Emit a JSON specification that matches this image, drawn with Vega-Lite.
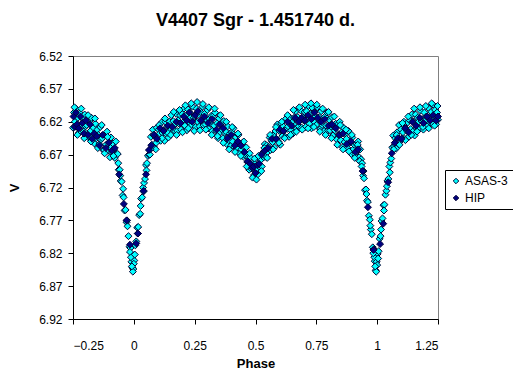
{
  "$schema": "https://vega.github.io/schema/vega-lite/v6.json",
  "autosize": "none",
  "width": 365,
  "height": 263,
  "padding": {"left": 73, "top": 56, "right": 75, "bottom": 61},
  "background": "white",
  "title": {"text": "V4407 Sgr - 1.451740 d.", "font": "Liberation Sans", "fontSize": 18, "fontWeight": "bold", "color": "#000000", "anchor": "middle", "frame": "group", "baseline": "alphabetic", "offset": 6},
  "config": {
    "font": "Liberation Sans",
    "view": {"stroke": "#808080", "strokeWidth": 1},
    "axis": {"domainColor": "#000000", "tickColor": "#000000", "labelColor": "#000000", "titleColor": "#000000", "labelFont": "Liberation Sans", "labelFontSize": 12, "titleFont": "Liberation Sans", "titleFontSize": 13, "titleFontWeight": "bold", "grid": false, "tickSize": 5, "domainWidth": 1, "tickWidth": 1},
    "legend": {"labelFont": "Liberation Sans", "labelFontSize": 12, "labelColor": "#000000"}
  },
  "datasets": {
    "asas": [
      {"phase":-0.25,"V":6.629},{"phase":-0.246,"V":6.606},{"phase":-0.242,"V":6.62},{"phase":-0.238,"V":6.6},{"phase":-0.234,"V":6.628},{"phase":-0.23,"V":6.614},{"phase":-0.226,"V":6.637},{"phase":-0.222,"V":6.607},{"phase":-0.218,"V":6.627},{"phase":-0.214,"V":6.614},{"phase":-0.21,"V":6.622},{"phase":-0.206,"V":6.635},{"phase":-0.202,"V":6.609},{"phase":-0.198,"V":6.627},{"phase":-0.194,"V":6.625},{"phase":-0.19,"V":6.643},{"phase":-0.186,"V":6.642},{"phase":-0.182,"V":6.619},{"phase":-0.178,"V":6.634},{"phase":-0.174,"V":6.614},{"phase":-0.17,"V":6.642},{"phase":-0.166,"V":6.629},{"phase":-0.162,"V":6.653},{"phase":-0.158,"V":6.623},{"phase":-0.154,"V":6.645},{"phase":-0.15,"V":6.632},{"phase":-0.146,"V":6.64},{"phase":-0.142,"V":6.654},{"phase":-0.138,"V":6.628},{"phase":-0.134,"V":6.647},{"phase":-0.13,"V":6.645},{"phase":-0.126,"V":6.663},{"phase":-0.122,"V":6.663},{"phase":-0.118,"V":6.64},{"phase":-0.114,"V":6.655},{"phase":-0.11,"V":6.635},{"phase":-0.106,"V":6.664},{"phase":-0.102,"V":6.651},{"phase":-0.098,"V":6.674},{"phase":-0.094,"V":6.644},{"phase":-0.09,"V":6.666},{"phase":-0.086,"V":6.653},{"phase":-0.082,"V":6.662},{"phase":-0.078,"V":6.675},{"phase":-0.074,"V":6.65},{"phase":-0.07,"V":6.669},{"phase":-0.066,"V":6.669},
      {"phase":-0.244,"V":6.598},{"phase":-0.232,"V":6.64},{"phase":-0.216,"V":6.6},{"phase":-0.204,"V":6.645},{"phase":-0.188,"V":6.61},{"phase":-0.176,"V":6.65},{"phase":-0.16,"V":6.615},{"phase":-0.148,"V":6.66},{"phase":-0.132,"V":6.625},{"phase":-0.12,"V":6.668},{"phase":-0.108,"V":6.643},{"phase":-0.096,"V":6.66},{"phase":-0.084,"V":6.672},
      {"phase":-0.062,"V":6.693},{"phase":-0.058,"V":6.693},{"phase":-0.054,"V":6.71},{"phase":-0.05,"V":6.711},{"phase":-0.046,"V":6.732},{"phase":-0.042,"V":6.735},{"phase":-0.038,"V":6.755},{"phase":-0.034,"V":6.754},{"phase":-0.03,"V":6.773},{"phase":-0.026,"V":6.779},{"phase":-0.022,"V":6.794},{"phase":-0.018,"V":6.81},{"phase":-0.014,"V":6.812},{"phase":-0.01,"V":6.833},{"phase":-0.006,"V":6.842},{"phase":-0.002,"V":6.844},{"phase":0.002,"V":6.831},{"phase":0.006,"V":6.808},{"phase":0.01,"V":6.802},{"phase":0.014,"V":6.781},{"phase":0.018,"V":6.78},{"phase":0.022,"V":6.762},{"phase":0.026,"V":6.76},{"phase":0.03,"V":6.737},{"phase":0.034,"V":6.735},{"phase":0.038,"V":6.72},{"phase":0.042,"V":6.713},{"phase":0.046,"V":6.707},{"phase":0.05,"V":6.686},{"phase":0.054,"V":6.683},{"phase":0.058,"V":6.672},{"phase":0.062,"V":6.67},
      {"phase":-0.012,"V":6.826},{"phase":-0.004,"V":6.848},{"phase":0.0,"V":6.836},{"phase":-0.008,"V":6.84},{"phase":0.004,"V":6.822},{"phase":-0.016,"V":6.818},{"phase":-0.028,"V":6.77},{"phase":-0.044,"V":6.722},{"phase":0.016,"V":6.79},{"phase":0.028,"V":6.748},{"phase":0.04,"V":6.726},{"phase":0.052,"V":6.694},{"phase":-0.056,"V":6.702},{"phase":-0.064,"V":6.683},
      {"phase":0.066,"V":6.67},{"phase":0.07,"V":6.643},{"phase":0.074,"V":6.655},{"phase":0.078,"V":6.632},{"phase":0.082,"V":6.657},{"phase":0.086,"V":6.641},{"phase":0.09,"V":6.662},{"phase":0.094,"V":6.629},{"phase":0.098,"V":6.648},{"phase":0.102,"V":6.632},{"phase":0.106,"V":6.638},{"phase":0.11,"V":6.649},{"phase":0.114,"V":6.621},{"phase":0.118,"V":6.637},{"phase":0.122,"V":6.633},{"phase":0.126,"V":6.649},
      {"phase":0.13,"V":6.62},{"phase":0.134,"V":6.639},{"phase":0.138,"V":6.627},{"phase":0.142,"V":6.644},{"phase":0.146,"V":6.62},{"phase":0.15,"V":6.632},{"phase":0.154,"V":6.61},{"phase":0.158,"V":6.636},{"phase":0.162,"V":6.619},{"phase":0.166,"V":6.633},{"phase":0.17,"V":6.624},{"phase":0.174,"V":6.608},{"phase":0.178,"V":6.634},{"phase":0.182,"V":6.618},{"phase":0.186,"V":6.623},{"phase":0.19,"V":6.61},
      {"phase":0.194,"V":6.632},{"phase":0.198,"V":6.608},{"phase":0.202,"V":6.621},{"phase":0.206,"V":6.6},{"phase":0.21,"V":6.626},{"phase":0.214,"V":6.611},{"phase":0.218,"V":6.633},{"phase":0.222,"V":6.601},{"phase":0.226,"V":6.621},{"phase":0.23,"V":6.606},{"phase":0.234,"V":6.613},{"phase":0.238,"V":6.625},{"phase":0.242,"V":6.597},{"phase":0.246,"V":6.614},{"phase":0.25,"V":6.611},{"phase":0.254,"V":6.628},
      {"phase":0.258,"V":6.6},{"phase":0.262,"V":6.62},{"phase":0.266,"V":6.609},{"phase":0.27,"V":6.627},{"phase":0.274,"V":6.605},{"phase":0.278,"V":6.618},{"phase":0.282,"V":6.597},{"phase":0.286,"V":6.625},{"phase":0.29,"V":6.608},{"phase":0.294,"V":6.624},{"phase":0.298,"V":6.617},{"phase":0.302,"V":6.602},{"phase":0.306,"V":6.63},{"phase":0.31,"V":6.616},{"phase":0.314,"V":6.622},{"phase":0.318,"V":6.611},
      {"phase":0.322,"V":6.634},{"phase":0.326,"V":6.611},{"phase":0.33,"V":6.626},{"phase":0.334,"V":6.606},{"phase":0.338,"V":6.634},{"phase":0.342,"V":6.622},{"phase":0.346,"V":6.645},{"phase":0.35,"V":6.615},{"phase":0.354,"V":6.636},{"phase":0.358,"V":6.623},{"phase":0.362,"V":6.632},{"phase":0.366,"V":6.645},{"phase":0.37,"V":6.619},{"phase":0.374,"V":6.637},{"phase":0.378,"V":6.635},{"phase":0.382,"V":6.654},
      {"phase":0.386,"V":6.627},{"phase":0.39,"V":6.648},{"phase":0.394,"V":6.638},{"phase":0.398,"V":6.657},{"phase":0.402,"V":6.636},{"phase":0.406,"V":6.65},{"phase":0.41,"V":6.63},{"phase":0.414,"V":6.659},{"phase":0.418,"V":6.643},{"phase":0.422,"V":6.66},{"phase":0.426,"V":6.653},{"phase":0.43,"V":6.64},{"phase":0.434,"V":6.668},{"phase":0.438,"V":6.655},{"phase":0.442,"V":6.662},{"phase":0.446,"V":6.652},
      {"phase":0.45,"V":6.673},{"phase":0.454,"V":6.659},{"phase":0.458,"V":6.671},{"phase":0.462,"V":6.659},{"phase":0.466,"V":6.681},{"phase":0.47,"V":6.674},{"phase":0.474,"V":6.693},{"phase":0.478,"V":6.674},{"phase":0.482,"V":6.691},{"phase":0.486,"V":6.684},{"phase":0.49,"V":6.691},{"phase":0.494,"V":6.701},{"phase":0.498,"V":6.684},{"phase":0.502,"V":6.695},{"phase":0.506,"V":6.691},{"phase":0.51,"V":6.7},
      {"phase":0.514,"V":6.676},{"phase":0.518,"V":6.689},{"phase":0.522,"V":6.678},{"phase":0.526,"V":6.688},{"phase":0.53,"V":6.667},{"phase":0.534,"V":6.674},{"phase":0.538,"V":6.654},{"phase":0.542,"V":6.673},{"phase":0.546,"V":6.656},{"phase":0.55,"V":6.666},{"phase":0.554,"V":6.658},{"phase":0.558,"V":6.644},{"phase":0.562,"V":6.663},{"phase":0.566,"V":6.649},{"phase":0.57,"V":6.651},{"phase":0.574,"V":6.64},
      {"phase":0.578,"V":6.659},{"phase":0.582,"V":6.634},{"phase":0.586,"V":6.646},{"phase":0.59,"V":6.624},{"phase":0.594,"V":6.65},{"phase":0.598,"V":6.634},{"phase":0.602,"V":6.655},{"phase":0.606,"V":6.623},{"phase":0.61,"V":6.642},{"phase":0.614,"V":6.627},{"phase":0.618,"V":6.633},{"phase":0.622,"V":6.643},{"phase":0.626,"V":6.615},{"phase":0.63,"V":6.631},{"phase":0.634,"V":6.627},{"phase":0.638,"V":6.643},
      {"phase":0.642,"V":6.614},{"phase":0.646,"V":6.633},{"phase":0.65,"V":6.621},{"phase":0.654,"V":6.638},{"phase":0.658,"V":6.614},{"phase":0.662,"V":6.626},{"phase":0.666,"V":6.604},{"phase":0.67,"V":6.63},{"phase":0.674,"V":6.613},{"phase":0.678,"V":6.627},{"phase":0.682,"V":6.618},{"phase":0.686,"V":6.603},{"phase":0.69,"V":6.629},{"phase":0.694,"V":6.613},{"phase":0.698,"V":6.618},{"phase":0.702,"V":6.605},
      {"phase":0.706,"V":6.628},{"phase":0.71,"V":6.604},{"phase":0.714,"V":6.617},{"phase":0.718,"V":6.596},{"phase":0.722,"V":6.623},{"phase":0.726,"V":6.608},{"phase":0.73,"V":6.63},{"phase":0.734,"V":6.599},{"phase":0.738,"V":6.619},{"phase":0.742,"V":6.605},{"phase":0.746,"V":6.612},{"phase":0.75,"V":6.625},{"phase":0.754,"V":6.598},{"phase":0.758,"V":6.616},{"phase":0.762,"V":6.613},{"phase":0.766,"V":6.631},
      {"phase":0.77,"V":6.604},{"phase":0.774,"V":6.625},{"phase":0.778,"V":6.615},{"phase":0.782,"V":6.634},{"phase":0.786,"V":6.612},{"phase":0.79,"V":6.626},{"phase":0.794,"V":6.606},{"phase":0.798,"V":6.633},{"phase":0.802,"V":6.617},{"phase":0.806,"V":6.633},{"phase":0.81,"V":6.627},{"phase":0.814,"V":6.613},{"phase":0.818,"V":6.641},{"phase":0.822,"V":6.627},{"phase":0.826,"V":6.633},{"phase":0.83,"V":6.623},
      {"phase":0.834,"V":6.647},{"phase":0.838,"V":6.624},{"phase":0.842,"V":6.64},{"phase":0.846,"V":6.62},{"phase":0.85,"V":6.648},{"phase":0.854,"V":6.636},{"phase":0.858,"V":6.659},{"phase":0.862,"V":6.629},{"phase":0.866,"V":6.651},{"phase":0.87,"V":6.638},{"phase":0.874,"V":6.646},{"phase":0.878,"V":6.66},{"phase":0.882,"V":6.634},{"phase":0.886,"V":6.652},{"phase":0.89,"V":6.651},{"phase":0.894,"V":6.669},
      {"phase":0.898,"V":6.644},{"phase":0.902,"V":6.662},{"phase":0.906,"V":6.655},{"phase":0.91,"V":6.67},{"phase":0.914,"V":6.654},{"phase":0.918,"V":6.665},{"phase":0.922,"V":6.65},{"phase":0.926,"V":6.674},{"phase":0.93,"V":6.662},{"phase":0.934,"V":6.677},
      {"phase":0.068,"V":6.662},{"phase":0.08,"V":6.64},{"phase":0.092,"V":6.652},{"phase":0.104,"V":6.625},{"phase":0.116,"V":6.645},{"phase":0.128,"V":6.615},{"phase":0.14,"V":6.637},{"phase":0.152,"V":6.64},{"phase":0.164,"V":6.605},{"phase":0.176,"V":6.64},{"phase":0.188,"V":6.602},{"phase":0.2,"V":6.636},{"phase":0.212,"V":6.595},{"phase":0.224,"V":6.63},{"phase":0.236,"V":6.592},{"phase":0.248,"V":6.634},{"phase":0.26,"V":6.59},{"phase":0.272,"V":6.633},{"phase":0.284,"V":6.593},{"phase":0.296,"V":6.632},{"phase":0.308,"V":6.598},{"phase":0.32,"V":6.64},{"phase":0.332,"V":6.6},{"phase":0.344,"V":6.642},{"phase":0.356,"V":6.61},{"phase":0.368,"V":6.652},{"phase":0.38,"V":6.62},{"phase":0.392,"V":6.662},{"phase":0.404,"V":6.628},{"phase":0.416,"V":6.666},{"phase":0.428,"V":6.638},{"phase":0.44,"V":6.672},{"phase":0.452,"V":6.65},{"phase":0.464,"V":6.688},{"phase":0.476,"V":6.668},{"phase":0.488,"V":6.705},{"phase":0.496,"V":6.676},{"phase":0.504,"V":6.708},{"phase":0.512,"V":6.672},{"phase":0.524,"V":6.695},{"phase":0.536,"V":6.66},{"phase":0.548,"V":6.675},{"phase":0.56,"V":6.64},{"phase":0.572,"V":6.662},{"phase":0.584,"V":6.628},{"phase":0.596,"V":6.652},{"phase":0.608,"V":6.62},{"phase":0.62,"V":6.645},{"phase":0.632,"V":6.61},{"phase":0.644,"V":6.64},{"phase":0.656,"V":6.602},{"phase":0.668,"V":6.635},{"phase":0.68,"V":6.598},{"phase":0.692,"V":6.632},{"phase":0.704,"V":6.594},{"phase":0.716,"V":6.63},{"phase":0.728,"V":6.592},{"phase":0.74,"V":6.628},{"phase":0.752,"V":6.594},{"phase":0.764,"V":6.635},{"phase":0.776,"V":6.6},{"phase":0.788,"V":6.64},{"phase":0.8,"V":6.605},{"phase":0.812,"V":6.645},{"phase":0.824,"V":6.612},{"phase":0.836,"V":6.655},{"phase":0.848,"V":6.625},{"phase":0.86,"V":6.662},{"phase":0.872,"V":6.632},{"phase":0.884,"V":6.665},{"phase":0.896,"V":6.64},{"phase":0.908,"V":6.675},{"phase":0.92,"V":6.655},{"phase":0.928,"V":6.68},
      {"phase":0.938,"V":6.683},{"phase":0.942,"V":6.702},{"phase":0.946,"V":6.706},{"phase":0.95,"V":6.724},{"phase":0.954,"V":6.723},{"phase":0.958,"V":6.74},{"phase":0.962,"V":6.742},{"phase":0.966,"V":6.763},{"phase":0.97,"V":6.769},{"phase":0.974,"V":6.784},{"phase":0.978,"V":6.791},{"phase":0.982,"V":6.811},{"phase":0.986,"V":6.814},{"phase":0.99,"V":6.832},{"phase":0.994,"V":6.846},{"phase":0.998,"V":6.833},{"phase":1.002,"V":6.821},{"phase":1.006,"V":6.817},{"phase":1.01,"V":6.798},{"phase":1.014,"V":6.794},{"phase":1.018,"V":6.771},{"phase":1.022,"V":6.767},{"phase":1.026,"V":6.747},{"phase":1.03,"V":6.746},{"phase":1.034,"V":6.731},{"phase":1.038,"V":6.725},{"phase":1.042,"V":6.71},{"phase":1.046,"V":6.707},{"phase":1.05,"V":6.688},{"phase":1.054,"V":6.682},{"phase":1.058,"V":6.676},{"phase":1.062,"V":6.659},
      {"phase":0.988,"V":6.826},{"phase":0.996,"V":6.848},{"phase":1.0,"V":6.838},{"phase":0.992,"V":6.84},{"phase":1.004,"V":6.828},{"phase":0.984,"V":6.82},{"phase":0.972,"V":6.778},{"phase":0.956,"V":6.73},{"phase":1.016,"V":6.784},{"phase":1.028,"V":6.755},{"phase":1.04,"V":6.718},{"phase":1.052,"V":6.697},{"phase":0.944,"V":6.695},{"phase":0.936,"V":6.688},
      {"phase":1.066,"V":6.641},{"phase":1.07,"V":6.658},{"phase":1.074,"V":6.645},{"phase":1.078,"V":6.661},{"phase":1.082,"V":6.636},{"phase":1.086,"V":6.647},{"phase":1.09,"V":6.625},{"phase":1.094,"V":6.65},{"phase":1.098,"V":6.632},{"phase":1.102,"V":6.645},{"phase":1.106,"V":6.636},{"phase":1.11,"V":6.62},{"phase":1.114,"V":6.646},{"phase":1.118,"V":6.63},{"phase":1.122,"V":6.634},{"phase":1.126,"V":6.621},
      {"phase":1.13,"V":6.643},{"phase":1.134,"V":6.618},{"phase":1.138,"V":6.631},{"phase":1.142,"V":6.609},{"phase":1.146,"V":6.635},{"phase":1.15,"V":6.62},{"phase":1.154,"V":6.641},{"phase":1.158,"V":6.609},{"phase":1.162,"V":6.629},{"phase":1.166,"V":6.614},{"phase":1.17,"V":6.62},{"phase":1.174,"V":6.631},{"phase":1.178,"V":6.603},{"phase":1.182,"V":6.619},{"phase":1.186,"V":6.616},{"phase":1.19,"V":6.632},
      {"phase":1.194,"V":6.606},{"phase":1.198,"V":6.618},{"phase":1.202,"V":6.612},{"phase":1.206,"V":6.627},{"phase":1.21,"V":6.599},{"phase":1.214,"V":6.613},{"phase":1.218,"V":6.621},{"phase":1.222,"V":6.605},{"phase":1.226,"V":6.622},{"phase":1.23,"V":6.594},{"phase":1.234,"V":6.615},{"phase":1.238,"V":6.602},{"phase":1.242,"V":6.624},{"phase":1.246,"V":6.606},{"phase":1.25,"V":6.617},
      {"phase":1.068,"V":6.662},{"phase":1.08,"V":6.64},{"phase":1.092,"V":6.655},{"phase":1.104,"V":6.622},{"phase":1.116,"V":6.648},{"phase":1.128,"V":6.612},{"phase":1.14,"V":6.64},{"phase":1.152,"V":6.6},{"phase":1.164,"V":6.635},{"phase":1.176,"V":6.598},{"phase":1.188,"V":6.628},{"phase":1.2,"V":6.596},{"phase":1.212,"V":6.63},{"phase":1.224,"V":6.592},{"phase":1.236,"V":6.626},{"phase":1.248,"V":6.596}
    ],
    "hip": [
      {"phase":-0.248,"V":6.612},{"phase":-0.243,"V":6.628},{"phase":-0.238,"V":6.606},{"phase":-0.233,"V":6.624},{"phase":-0.226,"V":6.63},{"phase":-0.219,"V":6.612},{"phase":-0.212,"V":6.622},{"phase":-0.205,"V":6.638},{"phase":-0.197,"V":6.618},{"phase":-0.188,"V":6.64},{"phase":-0.18,"V":6.624},{"phase":-0.171,"V":6.646},{"phase":-0.163,"V":6.638},{"phase":-0.152,"V":6.642},{"phase":-0.141,"V":6.656},{"phase":-0.128,"V":6.64},{"phase":-0.115,"V":6.66},{"phase":-0.103,"V":6.652},{"phase":-0.09,"V":6.664},{"phase":-0.078,"V":6.66},
      {"phase":-0.06,"V":6.7},{"phase":-0.041,"V":6.745},{"phase":-0.03,"V":6.77},{"phase":-0.016,"V":6.807},{"phase":0.01,"V":6.805},{"phase":0.017,"V":6.79},{"phase":0.04,"V":6.725},{"phase":0.05,"V":6.7},{"phase":0.062,"V":6.663},
      {"phase":0.072,"V":6.656},{"phase":0.083,"V":6.64},{"phase":0.095,"V":6.646},{"phase":0.108,"V":6.63},{"phase":0.122,"V":6.634},{"phase":0.14,"V":6.626},{"phase":0.158,"V":6.628},{"phase":0.175,"V":6.62},{"phase":0.192,"V":6.622},{"phase":0.205,"V":6.612},{"phase":0.218,"V":6.618},{"phase":0.228,"V":6.606},{"phase":0.24,"V":6.62},{"phase":0.252,"V":6.61},{"phase":0.263,"V":6.604},{"phase":0.275,"V":6.618},{"phase":0.29,"V":6.612},{"phase":0.305,"V":6.622},{"phase":0.322,"V":6.616},{"phase":0.34,"V":6.632},{"phase":0.352,"V":6.624},{"phase":0.368,"V":6.63},{"phase":0.385,"V":6.645},{"phase":0.4,"V":6.64},{"phase":0.415,"V":6.656},{"phase":0.428,"V":6.65},{"phase":0.44,"V":6.656},
      {"phase":0.455,"V":6.666},{"phase":0.468,"V":6.68},{"phase":0.478,"V":6.684},{"phase":0.487,"V":6.69},{"phase":0.493,"V":6.688},{"phase":0.5,"V":6.698},{"phase":0.507,"V":6.686},{"phase":0.515,"V":6.684},{"phase":0.525,"V":6.67},{"phase":0.538,"V":6.664},{"phase":0.552,"V":6.66},
      {"phase":0.568,"V":6.646},{"phase":0.585,"V":6.646},{"phase":0.6,"V":6.632},{"phase":0.615,"V":6.634},{"phase":0.632,"V":6.62},{"phase":0.648,"V":6.626},{"phase":0.663,"V":6.614},{"phase":0.678,"V":6.62},{"phase":0.69,"V":6.614},{"phase":0.703,"V":6.618},{"phase":0.716,"V":6.61},{"phase":0.73,"V":6.616},{"phase":0.742,"V":6.606},{"phase":0.756,"V":6.614},{"phase":0.77,"V":6.62},{"phase":0.785,"V":6.616},{"phase":0.8,"V":6.626},{"phase":0.815,"V":6.624},{"phase":0.83,"V":6.63},{"phase":0.845,"V":6.64},{"phase":0.86,"V":6.638},{"phase":0.875,"V":6.654},{"phase":0.892,"V":6.65},{"phase":0.91,"V":6.666},{"phase":0.922,"V":6.662},
      {"phase":0.94,"V":6.695},{"phase":0.962,"V":6.75},{"phase":0.985,"V":6.815},{"phase":1.012,"V":6.806},{"phase":1.025,"V":6.775},{"phase":1.045,"V":6.712},{"phase":1.06,"V":6.668},
      {"phase":1.072,"V":6.652},{"phase":1.085,"V":6.645},{"phase":1.1,"V":6.646},{"phase":1.115,"V":6.63},{"phase":1.13,"V":6.636},{"phase":1.145,"V":6.62},{"phase":1.16,"V":6.626},{"phase":1.175,"V":6.614},{"phase":1.19,"V":6.622},{"phase":1.205,"V":6.612},{"phase":1.218,"V":6.618},{"phase":1.23,"V":6.61},{"phase":1.242,"V":6.618},{"phase":1.25,"V":6.612}
    ]
  },
  "encoding": {
    "x": {"field": "phase", "type": "quantitative", "title": "Phase",
      "scale": {"domain": [-0.25, 1.25], "nice": false, "zero": false},
      "axis": {"values": [-0.25, 0, 0.25, 0.5, 0.75, 1, 1.25], "labelExpr": "format(datum.value, '~g')", "labelPadding": 16, "titleY": 44, "titleBaseline": "middle"}},
    "y": {"field": "V", "type": "quantitative", "title": "V",
      "scale": {"domain": [6.52, 6.92], "nice": false, "zero": false, "reverse": true},
      "axis": {"values": [6.52, 6.57, 6.62, 6.67, 6.72, 6.77, 6.82, 6.87, 6.92], "format": ".2f", "labelPadding": 6, "titleX": -59, "titleBaseline": "middle"}}
  },
  "layer": [
    {
      "data": {"name": "asas"},
      "mark": {"type": "point", "shape": "diamond", "filled": true, "size": 48, "opacity": 1, "stroke": "#000033", "strokeWidth": 1},
      "encoding": {
        "fill": {"datum": "ASAS-3", "type": "nominal",
          "scale": {"domain": ["ASAS-3", "HIP"], "range": ["#00FFFF", "#000080"]},
          "legend": {"title": null, "orient": "none", "legendX": 372, "legendY": 114, "symbolType": "diamond", "symbolSize": 30, "symbolStrokeColor": "#000033", "symbolStrokeWidth": 1, "strokeColor": "#000000", "fillColor": "#FFFFFF", "padding": 5, "rowPadding": 5, "labelOffset": 3, "labelFontSize": 12}}
      }
    },
    {
      "data": {"name": "hip"},
      "mark": {"type": "point", "shape": "diamond", "filled": true, "size": 48, "opacity": 1, "stroke": "#000040", "strokeWidth": 1},
      "encoding": {
        "fill": {"datum": "HIP", "type": "nominal"}
      }
    }
  ]
}
